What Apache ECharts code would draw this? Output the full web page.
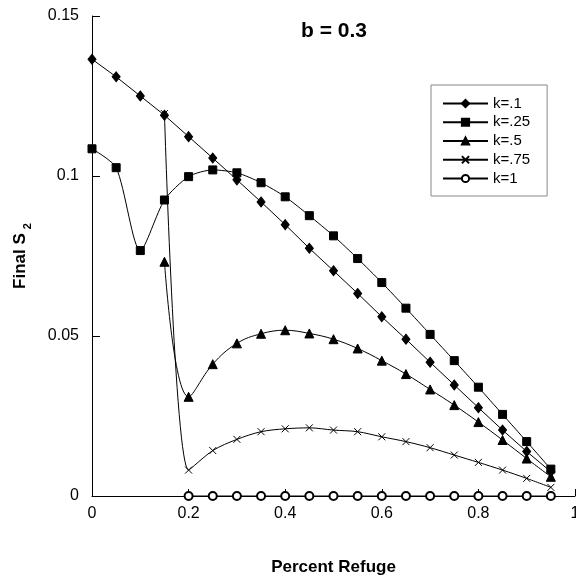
<!DOCTYPE html>
<html>
<head>
<meta charset="utf-8">
<script src="https://cdn.jsdelivr.net/npm/echarts@6/dist/echarts.min.js"></script>
<style>
  html, body { margin: 0; padding: 0; background: #fff; }
  #chart { width: 576px; height: 579px; }
</style>
</head>
<body>
<div id="chart"></div>
<script>
// percent refuge values (x)
var refuge = [0, 0.05, 0.1, 0.15, 0.2, 0.25, 0.3, 0.35, 0.4, 0.45, 0.5,
              0.55, 0.6, 0.65, 0.7, 0.75, 0.8, 0.85, 0.9, 0.95];

// final S2 for each k, null where no point
var k01 = [0.1365, 0.131, 0.125, 0.119, 0.1123, 0.1056, 0.0988, 0.0919, 0.0848, 0.0774,
           0.0704, 0.0633, 0.056, 0.049, 0.0418, 0.0347, 0.0276, 0.0206, 0.0139, 0.0076];
var k025 = [0.1085, 0.1026, 0.0767, 0.0925, 0.0998, 0.1019, 0.101, 0.0979, 0.0935, 0.0876,
            0.0813, 0.0742, 0.0667, 0.0587, 0.0505, 0.0423, 0.034, 0.0255, 0.017, 0.0084];
var k05 = [null, null, null, 0.0732, 0.031, 0.0412, 0.0477, 0.0507, 0.0518, 0.0508,
           0.049, 0.0461, 0.0423, 0.0381, 0.0333, 0.0284, 0.0231, 0.0175, 0.0117, 0.006];
var k075 = [null, null, null, 0.1195, 0.0081, 0.0142, 0.0177, 0.0201, 0.021, 0.0213,
            0.0206, 0.0201, 0.0185, 0.017, 0.0151, 0.0128, 0.0105, 0.0081, 0.0055, 0.0027];
var k1 = [null, null, null, null, 0, 0, 0, 0, 0, 0,
          0, 0, 0, 0, 0, 0, 0, 0, 0, 0];

var names = ['k=.1', 'k=.25', 'k=.5', 'k=.75', 'k=1'];

var crossPath = 'path://M0,0L10,10M10,0L0,10';

function pairs(vals) {
  var out = [];
  for (var i = 0; i < refuge.length; i++) {
    if (vals[i] !== null) out.push([refuge[i], vals[i]]);
  }
  return out;
}

function mkSeries(name, vals, symbol, size, smooth) {
  return {
    name: name,
    type: 'line',
    data: pairs(vals),
    symbol: symbol,
    symbolSize: size,
    smooth: smooth,
    showAllSymbol: true,
    lineStyle: { color: '#000', width: 1 },
    itemStyle: { color: '#000', borderColor: '#000', borderWidth: 1 },
    emphasis: { disabled: true },
    z: 3
  };
}

var font = '"Liberation Sans", Arial, Helvetica, sans-serif';

var chart = echarts.init(document.getElementById('chart'), null, { renderer: 'canvas' });

var option = {
  animation: false,
  backgroundColor: '#fff',
  title: {
    text: 'b = 0.3',
    left: 334,
    textAlign: 'center',
    top: 21,
    padding: 0,
    textStyle: { fontFamily: font, fontSize: 21, fontWeight: 'bold', color: '#000' }
  },
  legend: {
    orient: 'vertical',
    left: 431,
    top: 85,
    padding: [11, 17, 10, 11],
    itemWidth: 45,
    itemHeight: 9,
    itemGap: 3.75,
    borderColor: '#888',
    borderWidth: 1,
    data: names,
    textStyle: { fontFamily: font, fontSize: 15, color: '#000' }
  },
  grid: { left: 92, right: 1, top: 16, bottom: 83, outerBoundsMode: 'none', containLabel: false },
  xAxis: {
    type: 'value',
    min: 0,
    max: 1,
    interval: 0.2,
    name: 'Percent Refuge',
    nameLocation: 'middle',
    nameGap: 63,
    nameTextStyle: { fontFamily: font, fontSize: 17, fontWeight: 'bold', color: '#000' },
    axisLine: { lineStyle: { color: '#000', width: 1 } },
    axisTick: { inside: true, length: 7, lineStyle: { color: '#000' } },
    axisLabel: { fontFamily: font, fontSize: 16, color: '#000', margin: 10 },
    splitLine: { show: false }
  },
  yAxis: {
    type: 'value',
    min: 0,
    max: 0.15,
    interval: 0.05,
    name: 'Final S{sub|2}',
    nameLocation: 'middle',
    nameRotate: 90,
    nameGap: 59,
    nameTextStyle: {
      fontFamily: font, fontSize: 17, fontWeight: 'bold', color: '#000',
      rich: {
        sub: { fontFamily: font, fontSize: 11, fontWeight: 'bold', color: '#000', padding: [14, 0, 0, 4] }
      }
    },
    axisLine: { show: true, lineStyle: { color: '#000', width: 1 } },
    axisTick: { show: true, inside: true, length: 8, lineStyle: { color: '#000' } },
    axisLabel: { fontFamily: font, fontSize: 16, color: '#000', margin: 13 },
    splitLine: { show: false }
  },
  series: [
    mkSeries(names[0], k01, 'diamond', [8, 10], false),
    mkSeries(names[1], k025, 'rect', 8, 0.25),
    mkSeries(names[2], k05, 'triangle', 9, 0.4),
    mkSeries(names[3], k075, crossPath, 7, 0.3),
    mkSeries(names[4], k1, 'emptyCircle', 8, false)
  ]
};

chart.setOption(option);
</script>
</body>
</html>
